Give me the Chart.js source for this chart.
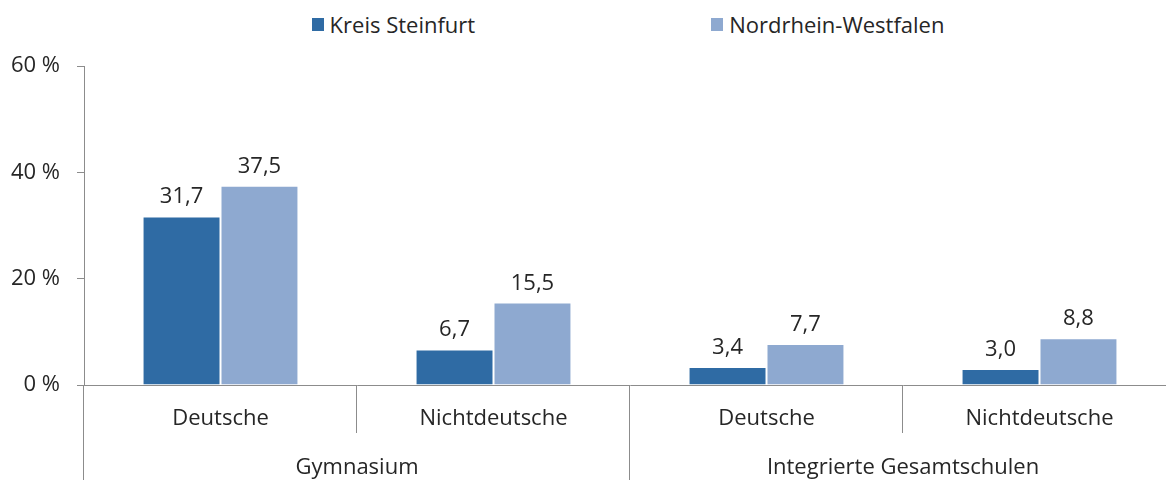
<!DOCTYPE html>
<html>
<head>
<meta charset="utf-8">
<script src="https://cdn.jsdelivr.net/npm/chart.js@4.4.1/dist/chart.umd.min.js"></script>
<style>
  html, body { margin: 0; padding: 0; background: #fff; overflow: hidden; }
  body { width: 1166px; height: 480px; position: relative; font-family: "Open Sans", sans-serif; color: #262626; }
  #wrap { position: absolute; left: 0; top: 0; width: 1180px; height: 480px; }
  #legend { position: absolute; left: 0; top: 11px; width: 1256px; display: flex; justify-content: center; gap: 236px; font-size: 22px; line-height: 26px; }
  .item { display: flex; align-items: center; }
  .box { width: 12px; height: 13px; margin-right: 6px; }
</style>
</head>
<body>
<div id="legend"></div>
<div id="wrap"><canvas id="chart"></canvas></div>
<script>
// Chart data
const categories = ["Deutsche", "Nichtdeutsche", "Deutsche", "Nichtdeutsche"];
const groups = ["Gymnasium", "Integrierte Gesamtschulen"];
const seriesNames = ["Kreis Steinfurt", "Nordrhein-Westfalen"];
const steinfurt = [31.7, 6.7, 3.4, 3.0];
const nrw = [37.5, 15.5, 7.7, 8.8];
const yTicks = [0, 20, 40, 60];
const colors = ["#2F6BA4", "#8EA9D0"];

const FONT = "Open Sans";
const FSIZE = 22;
const TEXT = "#262626";
const AXIS = "#8c8c8c";

// HTML legend
const legend = document.getElementById("legend");
seriesNames.forEach((name, i) => {
  const item = document.createElement("div");
  item.className = "item";
  item.innerHTML = '<span class="box" style="background:' + colors[i] + '"></span><span>' + name + '</span>';
  legend.appendChild(item);
});

const fmt = v => v.toFixed(1).replace(".", ",");

// value labels above bars
const valueLabels = {
  id: "valueLabels",
  afterDatasetsDraw(chart) {
    const ctx = chart.ctx;
    ctx.save();
    ctx.font = FSIZE + "px '" + FONT + "'";
    ctx.fillStyle = TEXT;
    ctx.textAlign = "center";
    ctx.textBaseline = "alphabetic";
    chart.data.datasets.forEach((ds, di) => {
      chart.getDatasetMeta(di).data.forEach((bar, i) => {
        ctx.fillText(fmt(ds.data[i]), bar.x, bar.y - 13);
      });
    });
    ctx.restore();
  }
};

// category separators and group labels
const groupAxis = {
  id: "groupAxis",
  afterDraw(chart) {
    const ctx = chart.ctx;
    const x = chart.scales.x;
    const bottom = chart.chartArea.bottom;
    const slot = (x.right - x.left) / categories.length;
    ctx.save();
    ctx.strokeStyle = AXIS;
    ctx.lineWidth = 1;
    for (let i = 0; i <= categories.length; i++) {
      const px = Math.round(x.left + i * slot) - 0.5;
      const end = (i % 2 === 0) ? chart.height : bottom + 48;
      ctx.beginPath();
      ctx.moveTo(px, bottom);
      ctx.lineTo(px, end);
      ctx.stroke();
    }
    ctx.font = FSIZE + "px '" + FONT + "'";
    ctx.fillStyle = TEXT;
    ctx.textAlign = "center";
    ctx.textBaseline = "alphabetic";
    groups.forEach((g, gi) => {
      const cx = x.left + (gi * 2 + 1) * slot;
      ctx.fillText(g, cx, 474);
    });
    ctx.restore();
  }
};

new Chart(document.getElementById("chart"), {
  type: "bar",
  data: {
    labels: categories,
    datasets: [
      { label: seriesNames[0], data: steinfurt, backgroundColor: colors[0], borderColor: "#ffffff", borderWidth: 1 },
      { label: seriesNames[1], data: nrw, backgroundColor: colors[1], borderColor: "#ffffff", borderWidth: 1 }
    ]
  },
  options: {
    responsive: true,
    maintainAspectRatio: false,
    animation: false,
    datasets: { bar: { barPercentage: 1, categoryPercentage: 0.571 } },
    layout: { padding: { top: 66, right: 4, left: 0, bottom: 0 } },
    plugins: { legend: { display: false }, tooltip: { enabled: false } },
    scales: {
      x: {
        grid: { display: false, drawTicks: false },
        border: { display: true, color: AXIS },
        ticks: { color: TEXT, font: { family: FONT, size: FSIZE }, padding: 21 },
        afterFit(s) { s.height = 95; }
      },
      y: {
        min: 0,
        max: 60,
        afterBuildTicks(s) { s.ticks = yTicks.map(v => ({ value: v })); },
        grid: { drawOnChartArea: false, tickLength: 7, color: AXIS },
        border: { display: true, color: AXIS },
        ticks: { color: TEXT, font: { family: FONT, size: FSIZE }, padding: 17, callback: v => v + " %" },
        afterFit(s) { s.width = 84; }
      }
    }
  },
  plugins: [valueLabels, groupAxis]
});
</script>
</body>
</html>
